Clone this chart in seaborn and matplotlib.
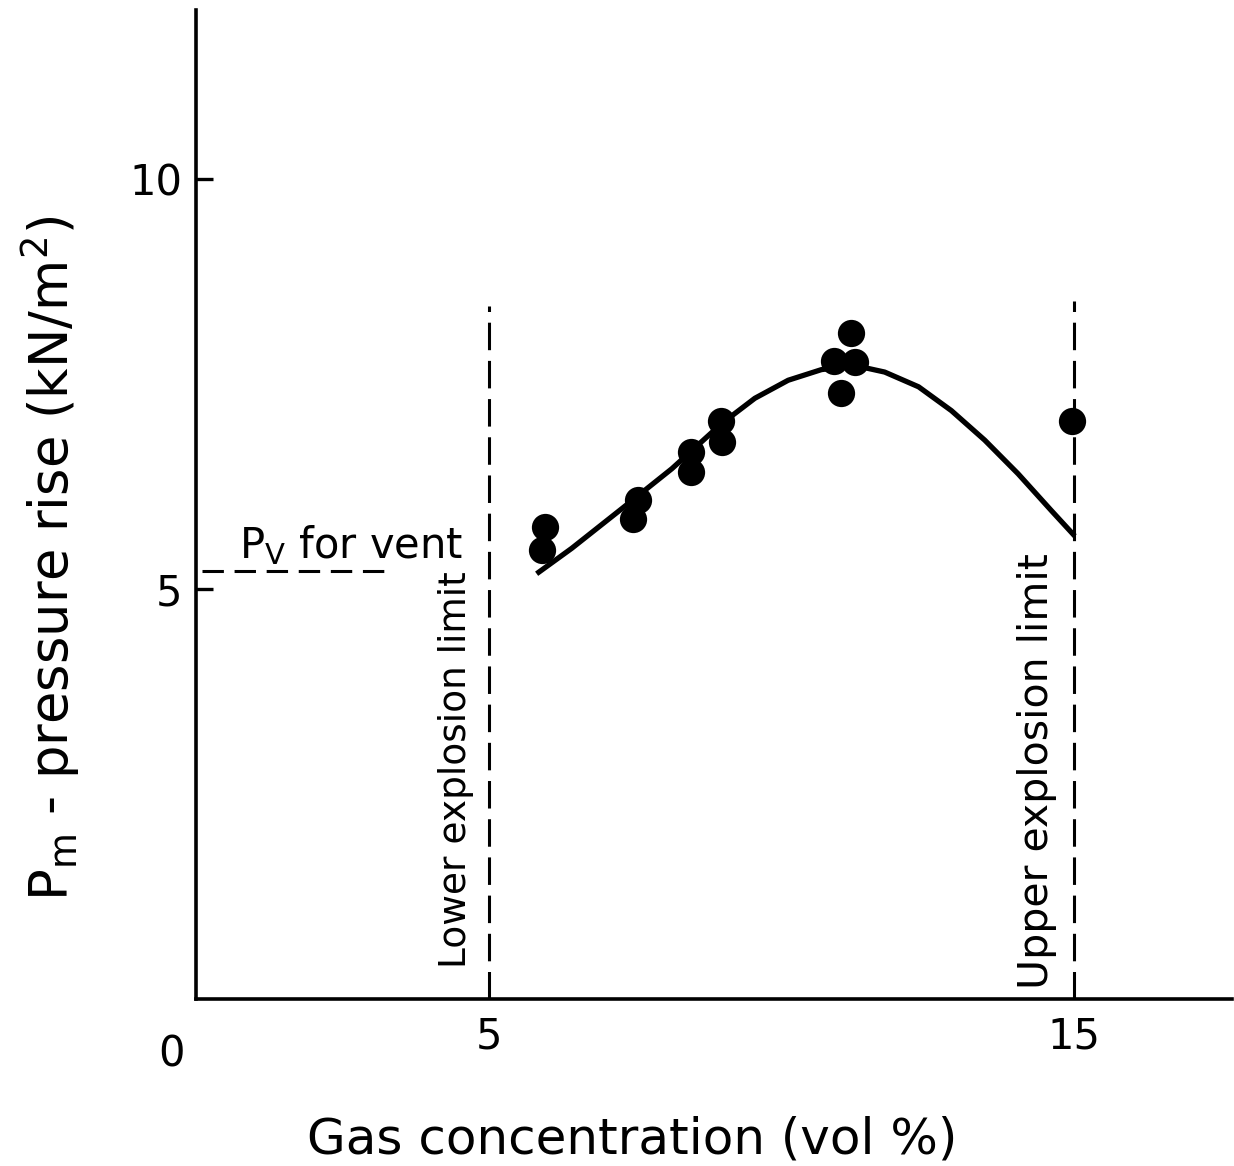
import numpy as np
import pandas as pd
import matplotlib
matplotlib.use("Agg")
import matplotlib.pyplot as plt
import seaborn as sns

# Data
conc_points = [5.96, 5.92, 7.55, 7.47, 8.46, 8.46, 8.97, 8.99, 10.91, 11.19, 11.26, 11.02, 14.98]
pressure_points = [5.76, 5.48, 6.09, 5.86, 6.67, 6.43, 7.05, 6.80, 7.79, 8.13, 7.77, 7.39, 7.05]

curve_x = [5.82, 6.42, 7.27, 8.13, 8.98, 9.55, 10.12, 10.69, 11.26, 11.77, 12.35, 12.91, 13.48, 14.05, 14.62, 15.02]
curve_y = [5.19, 5.50, 5.98, 6.47, 7.02, 7.33, 7.55, 7.68, 7.73, 7.65, 7.47, 7.18, 6.82, 6.41, 5.96, 5.65]

lower_limit = 5
upper_limit = 15
pv_vent = 5.22
x_ticks = [5, 15]
y_ticks = [5, 10]

sns.set_theme(style="ticks")
plt.rcParams['font.family'] = ['DejaVu Sans']
plt.rcParams['text.color'] = 'black'

fig = plt.figure(figsize=(12.34, 11.66), dpi=100)
ax = fig.add_axes([0.159, 0.143, 0.839, 0.848])

pts = pd.DataFrame({"x": conc_points, "y": pressure_points})
crv = pd.DataFrame({"x": curve_x, "y": curve_y})

sns.lineplot(data=crv, x="x", y="y", ax=ax, color="black", linewidth=3.8, sort=False,
             solid_joinstyle="round", solid_capstyle="butt")
sns.scatterplot(data=pts, x="x", y="y", ax=ax, color="black", s=330, edgecolor="black", zorder=5)

dash = (9, 3.5)
ax.plot([lower_limit, lower_limit], [0, 8.46], color="black", lw=2.2, dashes=dash)
ax.plot([upper_limit, upper_limit], [0, 8.52], color="black", lw=2.2, dashes=dash)
ax.plot([0.1, 3.34], [pv_vent, pv_vent], color="black", lw=2.2, dashes=(7, 3.5))

ax.text(0.73, 5.38, r"P$_\mathrm{V}$ for vent", fontsize=30, ha="left", va="baseline", color="black")
ax.text(4.45, 0.38, "Lower explosion limit", rotation=90, fontsize=27, ha="center", va="bottom", color="black")
ax.text(14.37, 0.12, "Upper explosion limit", rotation=90, fontsize=29.5, ha="center", va="bottom", color="black")

ax.set_xlim(0, 17.7)
ax.set_ylim(0, 12.06)
ax.set_xticks(x_ticks)
ax.set_yticks(y_ticks)
ax.set_xticklabels([str(t) for t in x_ticks], fontsize=30, color="black")
ax.set_yticklabels([str(t) for t in y_ticks], fontsize=30, color="black")
ax.tick_params(axis="x", length=0, pad=12)
ax.tick_params(axis="y", length=12, width=2.4, direction="in", pad=10, color="black")
ax.text(-0.42, -0.42, "0", fontsize=30, ha="center", va="top", clip_on=False, color="black")

sns.despine(ax=ax)
for s in ["left", "bottom"]:
    ax.spines[s].set_linewidth(2.6)
    ax.spines[s].set_color("black")

ax.set_xlabel("")
ax.set_ylabel("")
fig.text(632 / 1234, 1 - 1140 / 1166, "Gas concentration (vol %)", fontsize=36,
         ha="center", va="center", color="black")
fig.text(50 / 1234, 1 - 558 / 1166, r"P$_\mathrm{m}$ - pressure rise (kN/m$^2$)", fontsize=38,
         ha="center", va="center", rotation=90, color="black")

fig.savefig("out.png", dpi=100, facecolor="white")
